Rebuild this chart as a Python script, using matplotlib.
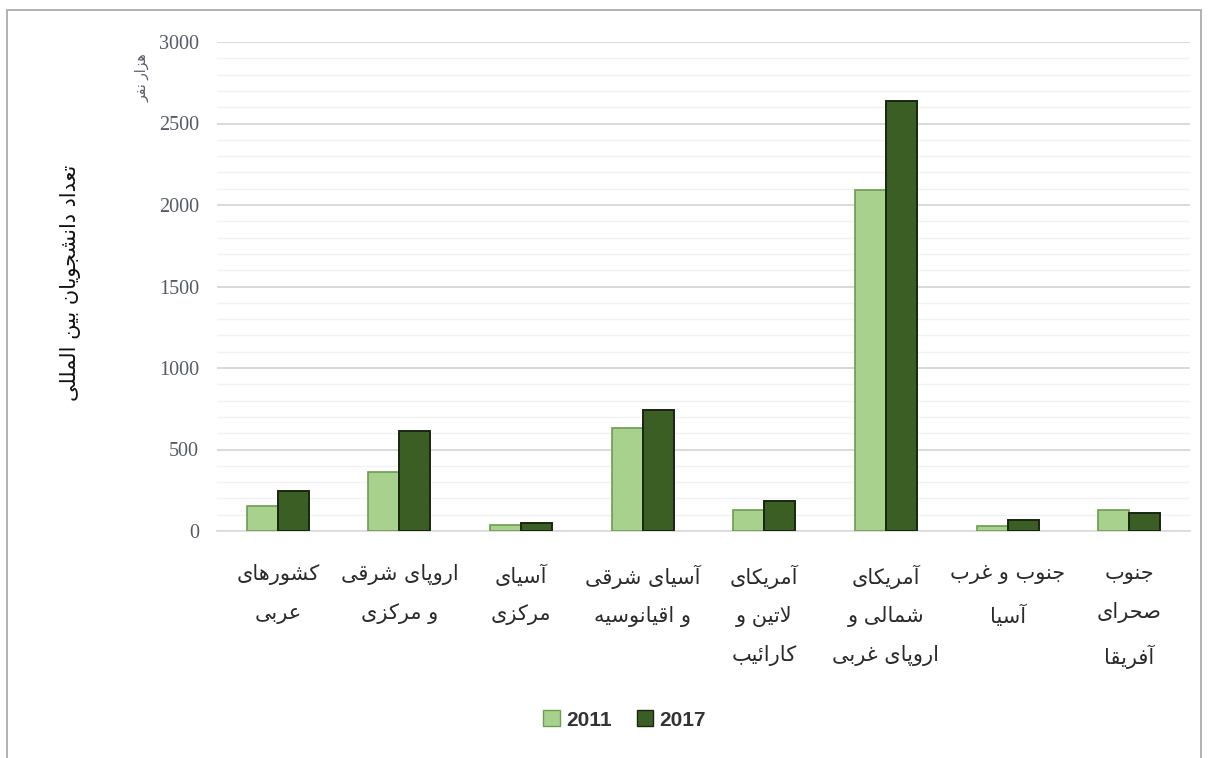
import matplotlib
matplotlib.use('Agg')
import numpy as np
import matplotlib.pyplot as plt
from matplotlib.patches import Patch, Rectangle

# data (thousand students)
categories = [
	'کشورهای\nعربی',
	'اروپای شرقی\nو مرکزی',
	'آسیای\nمرکزی',
	'آسیای شرقی\nو اقیانوسیه',
	'آمریکای\nلاتین و\nکارائیب',
	'آمریکای\nشمالی و\nاروپای غربی',
	'جنوب و غرب\nآسیا',
	'جنوب\nصحرای\nآفریقا',
]
values_2011 = [155, 362, 37, 632, 130, 2095, 32, 130]
values_2017 = [245, 615, 52, 742, 185, 2640, 68, 110]
series_names = ['2011', '2017']
y_label = 'تعداد دانشجویان بین المللی'
unit_label = 'هزار نفر'

# minimal Arabic/Persian shaping (matplotlib has no complex text layout)
# letter: (isolated, final, initial, medial)
FORMS = {
	'\u0627': ('\uFE8D', '\uFE8E', None, None),
	'\u0622': ('\uFE81', '\uFE82', None, None),
	'\u062F': ('\uFEA9', '\uFEAA', None, None),
	'\u0631': ('\uFEAD', '\uFEAE', None, None),
	'\u0632': ('\uFEAF', '\uFEB0', None, None),
	'\u0648': ('\uFEED', '\uFEEE', None, None),
	'\u0628': ('\uFE8F', '\uFE90', '\uFE91', '\uFE92'),
	'\u062A': ('\uFE95', '\uFE96', '\uFE97', '\uFE98'),
	'\u062C': ('\uFE9D', '\uFE9E', '\uFE9F', '\uFEA0'),
	'\u062D': ('\uFEA1', '\uFEA2', '\uFEA3', '\uFEA4'),
	'\u0633': ('\uFEB1', '\uFEB2', '\uFEB3', '\uFEB4'),
	'\u0634': ('\uFEB5', '\uFEB6', '\uFEB7', '\uFEB8'),
	'\u0635': ('\uFEB9', '\uFEBA', '\uFEBB', '\uFEBC'),
	'\u0639': ('\uFEC9', '\uFECA', '\uFECB', '\uFECC'),
	'\u063A': ('\uFECD', '\uFECE', '\uFECF', '\uFED0'),
	'\u0641': ('\uFED1', '\uFED2', '\uFED3', '\uFED4'),
	'\u0642': ('\uFED5', '\uFED6', '\uFED7', '\uFED8'),
	'\u0644': ('\uFEDD', '\uFEDE', '\uFEDF', '\uFEE0'),
	'\u0645': ('\uFEE1', '\uFEE2', '\uFEE3', '\uFEE4'),
	'\u0646': ('\uFEE5', '\uFEE6', '\uFEE7', '\uFEE8'),
	'\u0647': ('\uFEE9', '\uFEEA', '\uFEEB', '\uFEEC'),
	'\u0626': ('\uFE89', '\uFE8A', '\uFE8B', '\uFE8C'),
	'\u067E': ('\uFB56', '\uFB57', '\uFB58', '\uFB59'),
	'\u06A9': ('\uFB8E', '\uFB8F', '\uFB90', '\uFB91'),
	'\u06CC': ('\uFBFC', '\uFBFD', '\uFBFE', '\uFBFF'),
}


def shape_line(text):
	chars = list(text)
	n = len(chars)
	out = []

	def joins_prev(i):
		if i == 0 or chars[i] not in FORMS:
			return False
		p = chars[i - 1]
		return p in FORMS and FORMS[p][2] is not None

	def joins_next(i):
		if i >= n - 1 or chars[i] not in FORMS:
			return False
		return FORMS[chars[i]][2] is not None and chars[i + 1] in FORMS

	i = 0
	while i < n:
		c = chars[i]
		if c == '\u0644' and i + 1 < n and chars[i + 1] == '\u0627':
			out.append('\uFEFC' if joins_prev(i) else '\uFEFB')
			i += 2
			continue
		if c not in FORMS:
			out.append(c)
			i += 1
			continue
		iso, fin, ini, med = FORMS[c]
		jp, jn = joins_prev(i), joins_next(i)
		if jp and jn:
			out.append(med)
		elif jp:
			out.append(fin)
		elif jn:
			out.append(ini)
		else:
			out.append(iso)
		i += 1
	return ''.join(reversed(out))


def rtl(text):
	return '\n'.join(shape_line(line) for line in text.split('\n'))


arabic_font = ['DejaVu Sans']
color_2011 = '#a9d18e'
edge_2011 = '#6f9a50'
color_2017 = '#3b5e24'
edge_2017 = '#1a2610'

fig = plt.figure(figsize=(12.08, 7.58), dpi=100)
fig.patch.set_facecolor('white')
fig.add_artist(Rectangle((7 / 1208, -0.05), 1194 / 1208, 1.05 - 10 / 758,
	transform=fig.transFigure, fill=False, edgecolor='#a6a6a6', linewidth=1.2))

ax = fig.add_axes([217 / 1208, 1 - 531 / 758, (1190 - 217) / 1208, (531 - 42) / 758])

x = np.arange(len(categories))
bar_w = 0.255
ax.bar(x - bar_w / 2, values_2011, bar_w, color=color_2011, edgecolor=edge_2011, linewidth=1.2, zorder=3)
ax.bar(x + bar_w / 2, values_2017, bar_w, color=color_2017, edgecolor=edge_2017, linewidth=1.4, zorder=3)

ax.set_xlim(-0.5, len(categories) - 0.5)
ax.set_ylim(0, 3000)
ax.set_yticks(np.arange(0, 3001, 500))
ax.set_yticks(np.arange(0, 3001, 100), minor=True)
ax.grid(axis='y', which='major', color='#d9d9d9', linewidth=1.4, zorder=0)
ax.grid(axis='y', which='minor', color='#f2f2f2', linewidth=1.0, zorder=0)
ax.tick_params(axis='y', which='both', length=0, pad=13, labelsize=14.5, labelcolor='#555a66')
for lab in ax.get_yticklabels():
	lab.set_family('Liberation Serif')

ax.set_xticks(x)
ax.set_xticklabels([rtl(c) for c in categories], family=arabic_font, fontsize=15,
	color='#2b2b2b', linespacing=2.1, va='top')
ax.tick_params(axis='x', length=0, pad=24)

for side in ['top', 'right', 'left']:
	ax.spines[side].set_visible(False)
ax.spines['bottom'].set_color('#d9d9d9')
ax.spines['bottom'].set_linewidth(1.2)

fig.text(0.058, 0.627, rtl(y_label), rotation=90, ha='center', va='center',
	family=arabic_font, fontsize=15, color='#111111')
fig.text(0.118, 0.898, rtl(unit_label), rotation=90, ha='center', va='center',
	family=arabic_font, fontsize=10, color='#555a66')

handles = [Patch(facecolor=color_2011, edgecolor=edge_2011, label=series_names[0]),
	Patch(facecolor=color_2017, edgecolor=edge_2017, label=series_names[1])]
fig.legend(handles=handles, loc='center', bbox_to_anchor=(0.517, 0.05), ncol=2, frameon=False,
	prop={'family': 'Liberation Sans', 'weight': 'bold', 'size': 15},
	handlelength=0.8, handleheight=0.8, handletextpad=0.3, columnspacing=1.2, labelcolor='#333333')

plt.savefig('out.png', dpi=100)
